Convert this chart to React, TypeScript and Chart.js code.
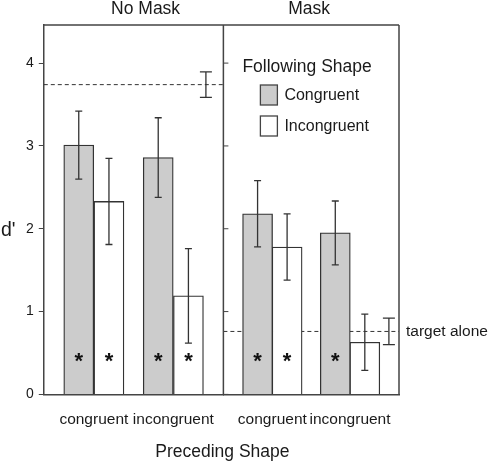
import React, { useEffect, useRef } from "react";
import { Chart, registerables } from "chart.js";

Chart.register(...registerables);

// ---- data ----
const categories = ["congruent", "incongruent"];
const panelTitles = ["No Mask", "Mask"];
const seriesNames = ["Congruent", "Incongruent"];
const yTicks = [0, 1, 2, 3, 4];

const noMaskCongruent = [3.01, 2.86];
const noMaskCongruentErr = [0.41, 0.48];
const noMaskIncongruent = [2.33, 1.19];
const noMaskIncongruentErr = [0.52, 0.57];
const maskCongruent = [2.18, 1.95];
const maskCongruentErr = [0.4, 0.385];
const maskIncongruent = [1.78, 0.63];
const maskIncongruentErr = [0.4, 0.34];

const noMaskCongruentStars = [true, true];
const noMaskIncongruentStars = [true, true];
const maskCongruentStars = [true, true];
const maskIncongruentStars = [true, false];

const targetAlone = [3.74, 0.76];
const targetAloneErr = [0.155, 0.16];

// ---- layout / style constants ----
const X_MIN = -0.63;
const X_MAX = 1.63;
const Y_MAX = 4.46;
const BAR_SHIFT = 0.19; // half a bar, in category units (grey left, white right)
const BAR_PX = 30;
const TARGET_X = [1.41, 1.5];
const GREY = "#cccccc";
const LINE = "#333333";
const FRAME = "#444444";
const TEXT = "#1a1a1a";
const FONT = "'Liberation Sans', Arial, sans-serif";

const toXY = (vals: number[], shift: number) => vals.map((v, i) => ({ x: i + shift, y: v }));

function barDataset(label: string, side: number, axis: string, vals: number[], errs: number[], stars: boolean[], fill: string) {
  return {
    type: "bar" as const,
    label,
    xAxisID: axis,
    yAxisID: "y",
    data: toXY(vals, side * BAR_SHIFT),
    errors: errs,
    stars,
    grouped: false,
    barThickness: BAR_PX,
    backgroundColor: fill,
    borderColor: LINE,
    borderWidth: 1.3,
    order: 1,
  };
}

function targetDataset(axis: string, idx: number) {
  return {
    type: "line" as const,
    label: "target alone",
    xAxisID: axis,
    yAxisID: "y",
    data: [
      { x: X_MIN, y: targetAlone[idx] },
      { x: X_MAX, y: targetAlone[idx] },
    ],
    targetIndex: idx,
    borderColor: LINE,
    borderWidth: 1,
    borderDash: [4, 3],
    pointRadius: 0,
    fill: false,
    order: 2,
  };
}

function errBar(ctx: CanvasRenderingContext2D, x: number, yTop: number, yBot: number, half: number) {
  ctx.beginPath();
  ctx.moveTo(x, yTop);
  ctx.lineTo(x, yBot);
  ctx.moveTo(x - half, yTop);
  ctx.lineTo(x + half, yTop);
  ctx.moveTo(x - half, yBot);
  ctx.lineTo(x + half, yBot);
  ctx.stroke();
}

function text(ctx: CanvasRenderingContext2D, s: string, x: number, y: number, size: number, align: CanvasTextAlign = "center") {
  ctx.font = `${size}px ${FONT}`;
  ctx.fillStyle = TEXT;
  ctx.textAlign = align;
  ctx.textBaseline = "middle";
  ctx.fillText(s, x, y);
}

const overlayPlugin = {
  id: "overlay",
  afterDatasetsDraw(chart: any) {
    const ctx: CanvasRenderingContext2D = chart.ctx;
    const y = chart.scales.y;
    ctx.save();
    ctx.strokeStyle = LINE;
    ctx.lineWidth = 1.3;
    chart.data.datasets.forEach((ds: any, i: number) => {
      const meta = chart.getDatasetMeta(i);
      if (ds.type === "bar") {
        meta.data.forEach((el: any, j: number) => {
          const v = ds.data[j].y;
          const e = ds.errors[j];
          errBar(ctx, el.x, y.getPixelForValue(v + e), y.getPixelForValue(v - e), 3.5);
          if (ds.stars[j]) {
            const size = 22;
            ctx.font = `bold ${size}px ${FONT}`;
            ctx.fillStyle = "#111";
            ctx.textAlign = "center";
            ctx.textBaseline = "alphabetic";
            ctx.fillText("*", el.x, y.getPixelForValue(0.5) + size * 0.68);
          }
        });
      } else {
        const idx = ds.targetIndex;
        const xs = chart.scales[ds.xAxisID];
        const px = xs.getPixelForValue(TARGET_X[idx]);
        const v = targetAlone[idx];
        const e = targetAloneErr[idx];
        errBar(ctx, px, y.getPixelForValue(v + e), y.getPixelForValue(v - e), 6);
      }
    });
    ctx.restore();
  },
  afterDraw(chart: any) {
    const ctx: CanvasRenderingContext2D = chart.ctx;
    const { left, right, top, bottom } = chart.chartArea;
    const y = chart.scales.y;
    const x1 = chart.scales.x1;
    const x2 = chart.scales.x2;
    const divider = x1.right;
    ctx.save();
    // frame
    ctx.strokeStyle = FRAME;
    ctx.lineWidth = 1.5;
    ctx.beginPath();
    ctx.moveTo(left, top);
    ctx.lineTo(right, top);
    ctx.moveTo(divider, top);
    ctx.lineTo(divider, bottom);
    ctx.moveTo(right, top);
    ctx.lineTo(right, bottom);
    ctx.stroke();
    // divider ticks
    ctx.lineWidth = 1;
    ctx.beginPath();
    yTicks.forEach((t) => {
      const py = y.getPixelForValue(t);
      ctx.moveTo(divider, py);
      ctx.lineTo(divider + 5, py);
    });
    ctx.stroke();
    // panel titles
    text(ctx, panelTitles[0], (x1.left + x1.right) / 2 + 12, 9, 17.5);
    text(ctx, panelTitles[1], (x2.left + x2.right) / 2 - 2, 9, 17.5);
    // y title
    text(ctx, "d'", 1, y.getPixelForValue(2) + 2, 19.5, "left");
    // x title
    text(ctx, "Preceding Shape", (left + right) / 2 + 1, 452, 17.5);
    // target alone label
    text(ctx, "target alone", right + 7, y.getPixelForValue(targetAlone[1]), 15.5, "left");
    // legend
    const lx = x2.left;
    text(ctx, "Following Shape", lx + 19, top + 42, 17.5, "left");
    const fills = [GREY, "#ffffff"];
    seriesNames.forEach((name, k) => {
      const by = top + 60 + k * 31;
      ctx.fillStyle = fills[k];
      ctx.fillRect(lx + 37, by, 17, 20);
      ctx.strokeStyle = FRAME;
      ctx.lineWidth = 1.3;
      ctx.strokeRect(lx + 37, by, 17, 20);
      text(ctx, name, lx + 61, by + 11, 16, "left");
    });
    ctx.restore();
  },
};

function xScale(weight: number) {
  return {
    type: "linear" as const,
    position: "bottom" as const,
    stack: "panels",
    stackWeight: weight,
    min: X_MIN,
    max: X_MAX,
    bounds: "data" as const,
    offset: false,
    afterBuildTicks: (axis: any) => {
      axis.ticks = categories.map((_, i) => ({ value: i }));
    },
    ticks: {
      callback: (v: any) => categories[Math.round(Number(v))] ?? "",
      font: { family: FONT, size: 15.5 },
      color: TEXT,
      padding: 16,
      maxRotation: 0,
      autoSkip: false,
    },
    grid: { display: false, drawTicks: false },
    border: { display: true, color: FRAME, width: 1.5 },
  };
}

export default function App() {
  const ref = useRef<HTMLCanvasElement>(null);
  useEffect(() => {
    if (!ref.current) return;
    const chart = new Chart(ref.current, {
      type: "bar",
      data: {
        datasets: [
          targetDataset("x1", 0),
          targetDataset("x2", 1),
          barDataset(seriesNames[0], -1, "x1", noMaskCongruent, noMaskCongruentErr, noMaskCongruentStars, GREY),
          barDataset(seriesNames[1], 1, "x1", noMaskIncongruent, noMaskIncongruentErr, noMaskIncongruentStars, "#ffffff"),
          barDataset(seriesNames[0], -1, "x2", maskCongruent, maskCongruentErr, maskCongruentStars, GREY),
          barDataset(seriesNames[1], 1, "x2", maskIncongruent, maskIncongruentErr, maskIncongruentStars, "#ffffff"),
        ] as any,
      },
      options: {
        responsive: false,
        animation: false,
        devicePixelRatio: 1,
        layout: { padding: { left: 21, right: 91, top: 25, bottom: 20 } },
        plugins: {
          legend: { display: false },
          tooltip: { enabled: false },
          title: { display: false },
        },
        scales: {
          x1: xScale(180),
          x2: xScale(176),
          y: {
            type: "linear",
            position: "left",
            stacked: false,
            min: 0,
            max: Y_MAX,
            afterBuildTicks: (axis: any) => {
              axis.ticks = yTicks.map((v) => ({ value: v }));
            },
            ticks: {
              font: { family: FONT, size: 14 },
              color: TEXT,
              padding: 5,
            },
            grid: { drawOnChartArea: false, drawTicks: true, tickLength: 5, tickColor: FRAME, tickWidth: 1 },
            border: { display: true, color: FRAME, width: 1.5 },
          },
        } as any,
      },
      plugins: [overlayPlugin],
    });
    return () => chart.destroy();
  }, []);
  return (
    <div style={{ position: "fixed", left: 0, top: 0, width: 490, height: 465, background: "#fff" }}>
      <canvas ref={ref} width={490} height={465} style={{ width: 490, height: 465, display: "block" }} />
    </div>
  );
}
